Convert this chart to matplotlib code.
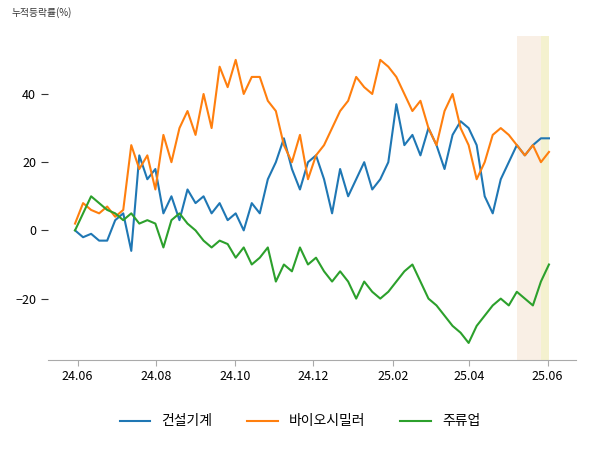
import matplotlib
matplotlib.use("Agg")
import matplotlib.pyplot as plt
import numpy as np
import pandas as pd

plt.rcParams["font.family"] = "Noto Sans CJK KR"

names = ["건설기계", "바이오시밀러", "주류업"]
blue = [0, -2, -1, -3, -3, 3, 5, -6, 22, 15, 18, 5, 10, 3, 12, 8, 10, 5, 8, 3, 5, 0, 8, 5,
        15, 20, 27, 18, 12, 20, 22, 15, 5, 18, 10, 15, 20, 12, 15, 20, 37, 25, 28, 22,
        30, 25, 18, 28, 32, 30, 25, 10, 5, 15, 20, 25, 22, 25, 27, 27]
orange = [2, 8, 6, 5, 7, 4, 6, 25, 18, 22, 12, 28, 20, 30, 35, 28, 40, 30, 48, 42, 50, 40, 45,
          45, 38, 35, 25, 20, 28, 15, 22, 25, 30, 35, 38, 45, 42, 40, 50, 48, 45, 40, 35,
          38, 30, 25, 35, 40, 30, 25, 15, 20, 28, 30, 28, 25, 22, 25, 20, 23]
green = [0, 5, 10, 8, 6, 5, 3, 5, 2, 3, 2, -5, 3, 5, 2, 0, -3, -5, -3, -4, -8, -5, -10,
         -8, -5, -15, -10, -12, -5, -10, -8, -12, -15, -12, -15, -20, -15, -18, -20, -18,
         -15, -12, -10, -15, -20, -22, -25, -28, -30, -33, -28, -25, -22, -20, -22, -18,
         -20, -22, -15, -10]
series = [blue, orange, green]
colors = ["#1f77b4", "#ff7f0e", "#2ca02c"]
tick_labels = ["24.06", "24.08", "24.10", "24.12", "25.02", "25.04", "25.06"]
tick_dates = ["2024-06-01", "2024-08-01", "2024-10-01", "2024-12-01", "2025-02-01", "2025-04-01", "2025-06-01"]

start, end = pd.Timestamp("2024-05-30"), pd.Timestamp("2025-06-02")

fig, ax = plt.subplots(figsize=(6, 4.5), dpi=100)
fig.subplots_adjust(left=0.08, right=0.96, top=0.92, bottom=0.2)
for name, vals, c in zip(names, series, colors):
    d = pd.to_datetime(np.linspace(start.value, end.value, len(vals)))
    ax.plot(d, vals, color=c, lw=1.5, label=name)

ax.axvspan(pd.Timestamp("2025-05-08"), pd.Timestamp("2025-05-27"), color="#f5e0cc", alpha=0.5, lw=0)
ax.axvspan(pd.Timestamp("2025-05-27"), pd.Timestamp("2025-06-02"), color="#eee8b0", alpha=0.6, lw=0)

ax.set_xticks(pd.to_datetime(tick_dates))
ax.set_xticklabels(tick_labels, fontsize=9)
ax.set_yticks([-20, 0, 20, 40])
ax.set_ylim(-38, 57)
ax.set_xlim(pd.Timestamp("2024-05-09"), pd.Timestamp("2025-06-23"))
ax.tick_params(axis="y", labelsize=9, length=5, color="#333333")
ax.tick_params(axis="x", length=4, color="#aaaaaa")
for s in ["top", "right", "left"]:
    ax.spines[s].set_visible(False)
ax.spines["bottom"].set_color("#aaaaaa")
fig.text(0.02, 0.965, "누적등락률(%)", fontsize=7, color="#333333")
fig.legend(loc="lower center", ncol=3, frameon=False, fontsize=10, bbox_to_anchor=(0.5, 0.02),
           handlelength=2.2, columnspacing=2.5)
fig.savefig("out.png")
